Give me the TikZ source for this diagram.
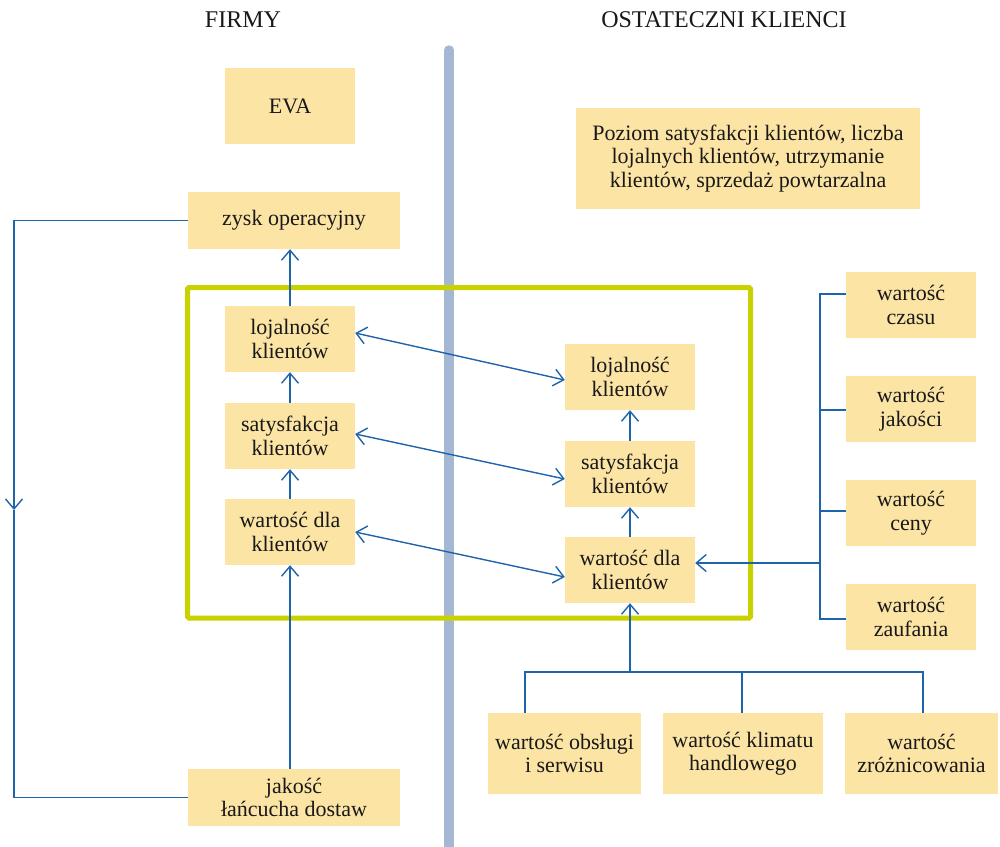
\documentclass[tikz,border=0pt]{standalone}
\usepackage{fontspec}
\setmainfont{Liberation Serif}
\usetikzlibrary{arrows.meta}
\definecolor{boxfill}{RGB}{252,228,165}
\definecolor{conn}{RGB}{30,100,170}
\definecolor{frame}{RGB}{200,210,0}
\definecolor{barcol}{RGB}{164,184,212}
\begin{document}
\begin{tikzpicture}[x=1pt,y=-1pt,
  txt/.style={font=\fontsize{22}{23.5}\selectfont, text=black!90},
  head/.style={font=\fontsize{24}{26}\selectfont, text=black!90},
  box/.style={txt, fill=boxfill, inner sep=0pt, align=center},
  small/.style={box, minimum width=130pt, minimum height=66pt},
  bottombox/.style={box, minimum height=81pt},
  link/.style={draw=conn, line width=1.4pt},
  arr/.style={link, -{Straight Barb[length=10pt,width=17pt]}},
  dbl/.style={link, {Straight Barb[length=10pt,width=17pt]}-{Straight Barb[length=10pt,width=17pt]}}]
\useasboundingbox (0,0) rectangle (1000,846);
% headings
\node[head] (hf) at (243,20) {FIRMY};
\node[head] (hk) at (724,20) {OSTATECZNI KLIENCI};
% divider bar
\draw[barcol, line width=9.5pt, line cap=round] (449,50) -- (449,850);
% frame
\draw[frame, line width=5pt, rounded corners=1.5pt] (187.5,287.5) rectangle (750.5,618);
% left nodes
\node[box, minimum width=130pt, minimum height=76pt] (eva) at (290,106) {EVA};
\node[box, minimum width=212pt, minimum height=57pt] (zy) at (294,220.5) {zysk operacyjny};
\node[small] (ll) at (290,339) {lojalność\\klientów};
\node[small] (ls) at (290,436) {satysfakcja\\klientów};
\node[small] (lw) at (290,532) {wartość dla\\klientów};
\node[box, minimum width=212pt, minimum height=57pt] (jak) at (294,797.5) {jakość\\łańcucha dostaw};
% right nodes
\node[box, minimum width=344pt, minimum height=101pt] (poz) at (748,158.5) {Poziom satysfakcji klientów, liczba\\lojalnych klientów, utrzymanie\\klientów, sprzedaż powtarzalna};
\node[small] (rl) at (630,377) {lojalność\\klientów};
\node[small] (rs) at (630,474) {satysfakcja\\klientów};
\node[small] (rw) at (630,570) {wartość dla\\klientów};
\node[small] (cz) at (911,305) {wartość\\czasu};
\node[small] (jk) at (911,409) {wartość\\jakości};
\node[small] (ce) at (911,513) {wartość\\ceny};
\node[small] (za) at (911,617) {wartość\\zaufania};
\node[bottombox, minimum width=153pt] (ob) at (564.5,753.5) {wartość obsługi\\i serwisu};
\node[bottombox, minimum width=160pt] (kl) at (743,753.5) {wartość klimatu\\handlowego};
\node[bottombox, minimum width=153pt] (zr) at (921.5,753.5) {wartość\\zróżnicowania};
% coordinates
\coordinate (lt) at (14,220.5);
\coordinate (lm) at (14,510);
\coordinate (lb) at (14,797.5);
\coordinate (bt) at (820,294);
\coordinate (bm) at (820,563);
\coordinate (bb) at (820,619);
\coordinate (hb) at (630,672);
\coordinate (hl) at (525,672);
\coordinate (hr) at (923,672);
% left chain
\draw[arr] (lw.south |- jak.north) -- (lw.south);
\draw[arr] (lw.north) -- (ls.south);
\draw[arr] (ls.north) -- (ll.south);
\draw[arr] (ll.north) -- (ll.north |- zy.south);
% left loop
\draw[arr] (zy.west) -- (lt) -- (lm);
\draw[link] (lm) -- (lb) -- (jak.west);
% cross links
\draw[dbl] ([yshift=6pt]ll.east) -- ([yshift=-3pt]rl.west);
\draw[dbl] ([yshift=2pt]ls.east) -- ([yshift=-5pt]rs.west);
\draw[dbl] (lw.east) -- ([yshift=-7pt]rw.west);
% right chain
\draw[arr] (rw.north) -- (rs.south);
\draw[arr] (rs.north) -- (rl.south);
% right bracket
\draw[link] ([yshift=11pt]cz.west) -- (bt) -- (bb) -- ([yshift=-2pt]za.west);
\draw[link] ([yshift=-1pt]jk.west) -- ([yshift=-1pt]jk.west -| bt);
\draw[link] ([yshift=2pt]ce.west) -- ([yshift=2pt]ce.west -| bt);
\draw[arr] (bm) -- (bm -| rw.east);
% bottom bracket
\draw[arr] (hb) -- (rw.south);
\draw[link] (ob.north -| hl) -- (hl) -- (hr) -- (zr.north -| hr);
\draw[link] (kl.north -| 742,0) -- (hl -| 742,0);
\end{tikzpicture}
\end{document}
